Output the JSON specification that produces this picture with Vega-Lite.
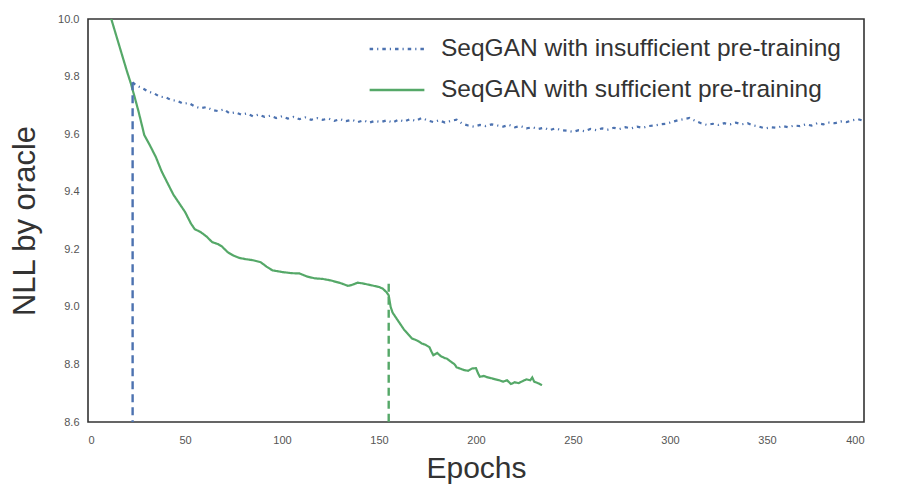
{
  "$schema": "https://vega.github.io/schema/vega-lite/v6.json",
  "autosize": {"type": "none"},
  "width": 776,
  "height": 403,
  "padding": {"left": 88, "top": 19, "right": 39, "bottom": 70},
  "background": "white",
  "config": {
    "font": "Liberation Sans",
    "view": {"stroke": "#333333", "strokeWidth": 1.6},
    "axis": {
      "domain": false,
      "grid": false,
      "ticks": false,
      "labelFont": "Liberation Sans",
      "labelFontSize": 11,
      "labelColor": "#555555",
      "titleFont": "Liberation Sans",
      "titleFontWeight": "normal",
      "titleColor": "#333333"
    },
    "legend": {
      "labelFont": "Liberation Sans",
      "labelFontSize": 24.5,
      "labelColor": "#333333",
      "labelLimit": 600
    }
  },
  "datasets": {
    "curves": [
      {"series": "SeqGAN with insufficient pre-training", "epoch": 23, "nll": 9.780},
      {"series": "SeqGAN with insufficient pre-training", "epoch": 25, "nll": 9.768},
      {"series": "SeqGAN with insufficient pre-training", "epoch": 28, "nll": 9.760},
      {"series": "SeqGAN with insufficient pre-training", "epoch": 31, "nll": 9.748},
      {"series": "SeqGAN with insufficient pre-training", "epoch": 34, "nll": 9.742},
      {"series": "SeqGAN with insufficient pre-training", "epoch": 37, "nll": 9.730},
      {"series": "SeqGAN with insufficient pre-training", "epoch": 40, "nll": 9.728},
      {"series": "SeqGAN with insufficient pre-training", "epoch": 43, "nll": 9.718},
      {"series": "SeqGAN with insufficient pre-training", "epoch": 46, "nll": 9.716},
      {"series": "SeqGAN with insufficient pre-training", "epoch": 49, "nll": 9.706},
      {"series": "SeqGAN with insufficient pre-training", "epoch": 52, "nll": 9.708},
      {"series": "SeqGAN with insufficient pre-training", "epoch": 55, "nll": 9.696},
      {"series": "SeqGAN with insufficient pre-training", "epoch": 58, "nll": 9.690},
      {"series": "SeqGAN with insufficient pre-training", "epoch": 61, "nll": 9.694},
      {"series": "SeqGAN with insufficient pre-training", "epoch": 64, "nll": 9.684},
      {"series": "SeqGAN with insufficient pre-training", "epoch": 67, "nll": 9.680},
      {"series": "SeqGAN with insufficient pre-training", "epoch": 70, "nll": 9.686},
      {"series": "SeqGAN with insufficient pre-training", "epoch": 73, "nll": 9.672},
      {"series": "SeqGAN with insufficient pre-training", "epoch": 76, "nll": 9.676},
      {"series": "SeqGAN with insufficient pre-training", "epoch": 79, "nll": 9.668},
      {"series": "SeqGAN with insufficient pre-training", "epoch": 82, "nll": 9.672},
      {"series": "SeqGAN with insufficient pre-training", "epoch": 85, "nll": 9.662},
      {"series": "SeqGAN with insufficient pre-training", "epoch": 88, "nll": 9.668},
      {"series": "SeqGAN with insufficient pre-training", "epoch": 91, "nll": 9.660},
      {"series": "SeqGAN with insufficient pre-training", "epoch": 94, "nll": 9.664},
      {"series": "SeqGAN with insufficient pre-training", "epoch": 97, "nll": 9.656},
      {"series": "SeqGAN with insufficient pre-training", "epoch": 100, "nll": 9.662},
      {"series": "SeqGAN with insufficient pre-training", "epoch": 103, "nll": 9.654},
      {"series": "SeqGAN with insufficient pre-training", "epoch": 106, "nll": 9.660},
      {"series": "SeqGAN with insufficient pre-training", "epoch": 109, "nll": 9.652},
      {"series": "SeqGAN with insufficient pre-training", "epoch": 112, "nll": 9.658},
      {"series": "SeqGAN with insufficient pre-training", "epoch": 115, "nll": 9.650},
      {"series": "SeqGAN with insufficient pre-training", "epoch": 118, "nll": 9.656},
      {"series": "SeqGAN with insufficient pre-training", "epoch": 121, "nll": 9.650},
      {"series": "SeqGAN with insufficient pre-training", "epoch": 124, "nll": 9.654},
      {"series": "SeqGAN with insufficient pre-training", "epoch": 127, "nll": 9.646},
      {"series": "SeqGAN with insufficient pre-training", "epoch": 130, "nll": 9.652},
      {"series": "SeqGAN with insufficient pre-training", "epoch": 133, "nll": 9.645},
      {"series": "SeqGAN with insufficient pre-training", "epoch": 136, "nll": 9.650},
      {"series": "SeqGAN with insufficient pre-training", "epoch": 139, "nll": 9.642},
      {"series": "SeqGAN with insufficient pre-training", "epoch": 142, "nll": 9.648},
      {"series": "SeqGAN with insufficient pre-training", "epoch": 145, "nll": 9.640},
      {"series": "SeqGAN with insufficient pre-training", "epoch": 148, "nll": 9.646},
      {"series": "SeqGAN with insufficient pre-training", "epoch": 151, "nll": 9.642},
      {"series": "SeqGAN with insufficient pre-training", "epoch": 154, "nll": 9.648},
      {"series": "SeqGAN with insufficient pre-training", "epoch": 157, "nll": 9.640},
      {"series": "SeqGAN with insufficient pre-training", "epoch": 160, "nll": 9.650},
      {"series": "SeqGAN with insufficient pre-training", "epoch": 163, "nll": 9.644},
      {"series": "SeqGAN with insufficient pre-training", "epoch": 166, "nll": 9.652},
      {"series": "SeqGAN with insufficient pre-training", "epoch": 169, "nll": 9.646},
      {"series": "SeqGAN with insufficient pre-training", "epoch": 172, "nll": 9.656},
      {"series": "SeqGAN with insufficient pre-training", "epoch": 175, "nll": 9.648},
      {"series": "SeqGAN with insufficient pre-training", "epoch": 178, "nll": 9.642},
      {"series": "SeqGAN with insufficient pre-training", "epoch": 181, "nll": 9.648},
      {"series": "SeqGAN with insufficient pre-training", "epoch": 184, "nll": 9.640},
      {"series": "SeqGAN with insufficient pre-training", "epoch": 187, "nll": 9.646},
      {"series": "SeqGAN with insufficient pre-training", "epoch": 190, "nll": 9.650},
      {"series": "SeqGAN with insufficient pre-training", "epoch": 193, "nll": 9.636},
      {"series": "SeqGAN with insufficient pre-training", "epoch": 196, "nll": 9.630},
      {"series": "SeqGAN with insufficient pre-training", "epoch": 199, "nll": 9.626},
      {"series": "SeqGAN with insufficient pre-training", "epoch": 202, "nll": 9.632},
      {"series": "SeqGAN with insufficient pre-training", "epoch": 205, "nll": 9.628},
      {"series": "SeqGAN with insufficient pre-training", "epoch": 208, "nll": 9.634},
      {"series": "SeqGAN with insufficient pre-training", "epoch": 211, "nll": 9.630},
      {"series": "SeqGAN with insufficient pre-training", "epoch": 214, "nll": 9.626},
      {"series": "SeqGAN with insufficient pre-training", "epoch": 217, "nll": 9.632},
      {"series": "SeqGAN with insufficient pre-training", "epoch": 220, "nll": 9.624},
      {"series": "SeqGAN with insufficient pre-training", "epoch": 223, "nll": 9.628},
      {"series": "SeqGAN with insufficient pre-training", "epoch": 226, "nll": 9.620},
      {"series": "SeqGAN with insufficient pre-training", "epoch": 229, "nll": 9.624},
      {"series": "SeqGAN with insufficient pre-training", "epoch": 232, "nll": 9.618},
      {"series": "SeqGAN with insufficient pre-training", "epoch": 235, "nll": 9.622},
      {"series": "SeqGAN with insufficient pre-training", "epoch": 238, "nll": 9.614},
      {"series": "SeqGAN with insufficient pre-training", "epoch": 241, "nll": 9.620},
      {"series": "SeqGAN with insufficient pre-training", "epoch": 244, "nll": 9.614},
      {"series": "SeqGAN with insufficient pre-training", "epoch": 247, "nll": 9.612},
      {"series": "SeqGAN with insufficient pre-training", "epoch": 250, "nll": 9.608},
      {"series": "SeqGAN with insufficient pre-training", "epoch": 253, "nll": 9.614},
      {"series": "SeqGAN with insufficient pre-training", "epoch": 256, "nll": 9.610},
      {"series": "SeqGAN with insufficient pre-training", "epoch": 259, "nll": 9.618},
      {"series": "SeqGAN with insufficient pre-training", "epoch": 262, "nll": 9.614},
      {"series": "SeqGAN with insufficient pre-training", "epoch": 265, "nll": 9.620},
      {"series": "SeqGAN with insufficient pre-training", "epoch": 268, "nll": 9.616},
      {"series": "SeqGAN with insufficient pre-training", "epoch": 271, "nll": 9.622},
      {"series": "SeqGAN with insufficient pre-training", "epoch": 274, "nll": 9.618},
      {"series": "SeqGAN with insufficient pre-training", "epoch": 277, "nll": 9.624},
      {"series": "SeqGAN with insufficient pre-training", "epoch": 280, "nll": 9.620},
      {"series": "SeqGAN with insufficient pre-training", "epoch": 283, "nll": 9.626},
      {"series": "SeqGAN with insufficient pre-training", "epoch": 286, "nll": 9.622},
      {"series": "SeqGAN with insufficient pre-training", "epoch": 289, "nll": 9.628},
      {"series": "SeqGAN with insufficient pre-training", "epoch": 292, "nll": 9.630},
      {"series": "SeqGAN with insufficient pre-training", "epoch": 295, "nll": 9.634},
      {"series": "SeqGAN with insufficient pre-training", "epoch": 298, "nll": 9.636},
      {"series": "SeqGAN with insufficient pre-training", "epoch": 301, "nll": 9.642},
      {"series": "SeqGAN with insufficient pre-training", "epoch": 304, "nll": 9.648},
      {"series": "SeqGAN with insufficient pre-training", "epoch": 307, "nll": 9.652},
      {"series": "SeqGAN with insufficient pre-training", "epoch": 310, "nll": 9.656},
      {"series": "SeqGAN with insufficient pre-training", "epoch": 313, "nll": 9.646},
      {"series": "SeqGAN with insufficient pre-training", "epoch": 316, "nll": 9.638},
      {"series": "SeqGAN with insufficient pre-training", "epoch": 319, "nll": 9.632},
      {"series": "SeqGAN with insufficient pre-training", "epoch": 322, "nll": 9.636},
      {"series": "SeqGAN with insufficient pre-training", "epoch": 325, "nll": 9.632},
      {"series": "SeqGAN with insufficient pre-training", "epoch": 328, "nll": 9.638},
      {"series": "SeqGAN with insufficient pre-training", "epoch": 331, "nll": 9.634},
      {"series": "SeqGAN with insufficient pre-training", "epoch": 334, "nll": 9.640},
      {"series": "SeqGAN with insufficient pre-training", "epoch": 337, "nll": 9.634},
      {"series": "SeqGAN with insufficient pre-training", "epoch": 340, "nll": 9.638},
      {"series": "SeqGAN with insufficient pre-training", "epoch": 343, "nll": 9.630},
      {"series": "SeqGAN with insufficient pre-training", "epoch": 346, "nll": 9.626},
      {"series": "SeqGAN with insufficient pre-training", "epoch": 349, "nll": 9.620},
      {"series": "SeqGAN with insufficient pre-training", "epoch": 352, "nll": 9.624},
      {"series": "SeqGAN with insufficient pre-training", "epoch": 355, "nll": 9.622},
      {"series": "SeqGAN with insufficient pre-training", "epoch": 358, "nll": 9.628},
      {"series": "SeqGAN with insufficient pre-training", "epoch": 361, "nll": 9.624},
      {"series": "SeqGAN with insufficient pre-training", "epoch": 364, "nll": 9.630},
      {"series": "SeqGAN with insufficient pre-training", "epoch": 367, "nll": 9.628},
      {"series": "SeqGAN with insufficient pre-training", "epoch": 370, "nll": 9.634},
      {"series": "SeqGAN with insufficient pre-training", "epoch": 373, "nll": 9.630},
      {"series": "SeqGAN with insufficient pre-training", "epoch": 376, "nll": 9.638},
      {"series": "SeqGAN with insufficient pre-training", "epoch": 379, "nll": 9.634},
      {"series": "SeqGAN with insufficient pre-training", "epoch": 382, "nll": 9.640},
      {"series": "SeqGAN with insufficient pre-training", "epoch": 385, "nll": 9.638},
      {"series": "SeqGAN with insufficient pre-training", "epoch": 388, "nll": 9.644},
      {"series": "SeqGAN with insufficient pre-training", "epoch": 391, "nll": 9.642},
      {"series": "SeqGAN with insufficient pre-training", "epoch": 394, "nll": 9.648},
      {"series": "SeqGAN with insufficient pre-training", "epoch": 397, "nll": 9.652},
      {"series": "SeqGAN with insufficient pre-training", "epoch": 400, "nll": 9.646},
      {"series": "SeqGAN with sufficient pre-training", "epoch": 10, "nll": 10.045},
      {"series": "SeqGAN with sufficient pre-training", "epoch": 12, "nll": 10.0},
      {"series": "SeqGAN with sufficient pre-training", "epoch": 14, "nll": 9.955},
      {"series": "SeqGAN with sufficient pre-training", "epoch": 16, "nll": 9.91},
      {"series": "SeqGAN with sufficient pre-training", "epoch": 18, "nll": 9.865},
      {"series": "SeqGAN with sufficient pre-training", "epoch": 20, "nll": 9.82},
      {"series": "SeqGAN with sufficient pre-training", "epoch": 22, "nll": 9.778},
      {"series": "SeqGAN with sufficient pre-training", "epoch": 24, "nll": 9.73},
      {"series": "SeqGAN with sufficient pre-training", "epoch": 26, "nll": 9.68},
      {"series": "SeqGAN with sufficient pre-training", "epoch": 28, "nll": 9.625},
      {"series": "SeqGAN with sufficient pre-training", "epoch": 29, "nll": 9.597},
      {"series": "SeqGAN with sufficient pre-training", "epoch": 32, "nll": 9.56},
      {"series": "SeqGAN with sufficient pre-training", "epoch": 35, "nll": 9.52},
      {"series": "SeqGAN with sufficient pre-training", "epoch": 38, "nll": 9.47},
      {"series": "SeqGAN with sufficient pre-training", "epoch": 41, "nll": 9.43},
      {"series": "SeqGAN with sufficient pre-training", "epoch": 44, "nll": 9.39},
      {"series": "SeqGAN with sufficient pre-training", "epoch": 47, "nll": 9.36},
      {"series": "SeqGAN with sufficient pre-training", "epoch": 50, "nll": 9.33},
      {"series": "SeqGAN with sufficient pre-training", "epoch": 53, "nll": 9.29},
      {"series": "SeqGAN with sufficient pre-training", "epoch": 55, "nll": 9.27},
      {"series": "SeqGAN with sufficient pre-training", "epoch": 58, "nll": 9.26},
      {"series": "SeqGAN with sufficient pre-training", "epoch": 61, "nll": 9.245},
      {"series": "SeqGAN with sufficient pre-training", "epoch": 64, "nll": 9.225},
      {"series": "SeqGAN with sufficient pre-training", "epoch": 67, "nll": 9.218},
      {"series": "SeqGAN with sufficient pre-training", "epoch": 69, "nll": 9.21},
      {"series": "SeqGAN with sufficient pre-training", "epoch": 72, "nll": 9.19},
      {"series": "SeqGAN with sufficient pre-training", "epoch": 75, "nll": 9.178},
      {"series": "SeqGAN with sufficient pre-training", "epoch": 78, "nll": 9.17},
      {"series": "SeqGAN with sufficient pre-training", "epoch": 81, "nll": 9.166},
      {"series": "SeqGAN with sufficient pre-training", "epoch": 85, "nll": 9.162},
      {"series": "SeqGAN with sufficient pre-training", "epoch": 89, "nll": 9.155},
      {"series": "SeqGAN with sufficient pre-training", "epoch": 92, "nll": 9.14},
      {"series": "SeqGAN with sufficient pre-training", "epoch": 95, "nll": 9.127},
      {"series": "SeqGAN with sufficient pre-training", "epoch": 100, "nll": 9.121},
      {"series": "SeqGAN with sufficient pre-training", "epoch": 105, "nll": 9.117},
      {"series": "SeqGAN with sufficient pre-training", "epoch": 109, "nll": 9.116},
      {"series": "SeqGAN with sufficient pre-training", "epoch": 113, "nll": 9.105},
      {"series": "SeqGAN with sufficient pre-training", "epoch": 117, "nll": 9.099},
      {"series": "SeqGAN with sufficient pre-training", "epoch": 121, "nll": 9.097},
      {"series": "SeqGAN with sufficient pre-training", "epoch": 125, "nll": 9.092},
      {"series": "SeqGAN with sufficient pre-training", "epoch": 130, "nll": 9.083},
      {"series": "SeqGAN with sufficient pre-training", "epoch": 134, "nll": 9.073},
      {"series": "SeqGAN with sufficient pre-training", "epoch": 136, "nll": 9.076},
      {"series": "SeqGAN with sufficient pre-training", "epoch": 139, "nll": 9.084},
      {"series": "SeqGAN with sufficient pre-training", "epoch": 142, "nll": 9.081},
      {"series": "SeqGAN with sufficient pre-training", "epoch": 146, "nll": 9.075},
      {"series": "SeqGAN with sufficient pre-training", "epoch": 150, "nll": 9.069},
      {"series": "SeqGAN with sufficient pre-training", "epoch": 152, "nll": 9.063},
      {"series": "SeqGAN with sufficient pre-training", "epoch": 154, "nll": 9.05},
      {"series": "SeqGAN with sufficient pre-training", "epoch": 155, "nll": 9.04},
      {"series": "SeqGAN with sufficient pre-training", "epoch": 156, "nll": 9.0},
      {"series": "SeqGAN with sufficient pre-training", "epoch": 157, "nll": 8.98},
      {"series": "SeqGAN with sufficient pre-training", "epoch": 159, "nll": 8.96},
      {"series": "SeqGAN with sufficient pre-training", "epoch": 161, "nll": 8.94},
      {"series": "SeqGAN with sufficient pre-training", "epoch": 163, "nll": 8.92},
      {"series": "SeqGAN with sufficient pre-training", "epoch": 165, "nll": 8.905},
      {"series": "SeqGAN with sufficient pre-training", "epoch": 167, "nll": 8.89},
      {"series": "SeqGAN with sufficient pre-training", "epoch": 169, "nll": 8.885},
      {"series": "SeqGAN with sufficient pre-training", "epoch": 171, "nll": 8.878},
      {"series": "SeqGAN with sufficient pre-training", "epoch": 172, "nll": 8.873},
      {"series": "SeqGAN with sufficient pre-training", "epoch": 174, "nll": 8.868},
      {"series": "SeqGAN with sufficient pre-training", "epoch": 176, "nll": 8.86},
      {"series": "SeqGAN with sufficient pre-training", "epoch": 177, "nll": 8.845},
      {"series": "SeqGAN with sufficient pre-training", "epoch": 178, "nll": 8.832},
      {"series": "SeqGAN with sufficient pre-training", "epoch": 180, "nll": 8.84},
      {"series": "SeqGAN with sufficient pre-training", "epoch": 182, "nll": 8.828},
      {"series": "SeqGAN with sufficient pre-training", "epoch": 184, "nll": 8.822},
      {"series": "SeqGAN with sufficient pre-training", "epoch": 185, "nll": 8.82},
      {"series": "SeqGAN with sufficient pre-training", "epoch": 187, "nll": 8.81},
      {"series": "SeqGAN with sufficient pre-training", "epoch": 189, "nll": 8.8},
      {"series": "SeqGAN with sufficient pre-training", "epoch": 190, "nll": 8.79},
      {"series": "SeqGAN with sufficient pre-training", "epoch": 192, "nll": 8.785},
      {"series": "SeqGAN with sufficient pre-training", "epoch": 194, "nll": 8.78},
      {"series": "SeqGAN with sufficient pre-training", "epoch": 196, "nll": 8.778},
      {"series": "SeqGAN with sufficient pre-training", "epoch": 198, "nll": 8.786},
      {"series": "SeqGAN with sufficient pre-training", "epoch": 200, "nll": 8.787},
      {"series": "SeqGAN with sufficient pre-training", "epoch": 201, "nll": 8.77},
      {"series": "SeqGAN with sufficient pre-training", "epoch": 202, "nll": 8.757},
      {"series": "SeqGAN with sufficient pre-training", "epoch": 204, "nll": 8.76},
      {"series": "SeqGAN with sufficient pre-training", "epoch": 206, "nll": 8.755},
      {"series": "SeqGAN with sufficient pre-training", "epoch": 208, "nll": 8.752},
      {"series": "SeqGAN with sufficient pre-training", "epoch": 210, "nll": 8.748},
      {"series": "SeqGAN with sufficient pre-training", "epoch": 212, "nll": 8.745},
      {"series": "SeqGAN with sufficient pre-training", "epoch": 214, "nll": 8.74},
      {"series": "SeqGAN with sufficient pre-training", "epoch": 216, "nll": 8.745},
      {"series": "SeqGAN with sufficient pre-training", "epoch": 218, "nll": 8.732},
      {"series": "SeqGAN with sufficient pre-training", "epoch": 220, "nll": 8.738},
      {"series": "SeqGAN with sufficient pre-training", "epoch": 222, "nll": 8.735},
      {"series": "SeqGAN with sufficient pre-training", "epoch": 224, "nll": 8.742},
      {"series": "SeqGAN with sufficient pre-training", "epoch": 226, "nll": 8.748},
      {"series": "SeqGAN with sufficient pre-training", "epoch": 228, "nll": 8.745},
      {"series": "SeqGAN with sufficient pre-training", "epoch": 229, "nll": 8.755},
      {"series": "SeqGAN with sufficient pre-training", "epoch": 230, "nll": 8.74},
      {"series": "SeqGAN with sufficient pre-training", "epoch": 232, "nll": 8.735},
      {"series": "SeqGAN with sufficient pre-training", "epoch": 234, "nll": 8.728}
    ],
    "switches": [
      {"series": "SeqGAN with insufficient pre-training", "epoch": 23, "nll": 9.78},
      {"series": "SeqGAN with sufficient pre-training", "epoch": 155, "nll": 9.08}
    ]
  },
  "encoding": {
    "x": {
      "field": "epoch",
      "type": "quantitative",
      "scale": {"domain": [0, 400], "nice": false},
      "axis": {
        "title": "Epochs",
        "values": [0, 50, 100, 150, 200, 250, 300, 350, 400],
        "labelPadding": 12,
        "titleFontSize": 30,
        "titlePadding": 8
      }
    },
    "y": {
      "field": "nll",
      "type": "quantitative",
      "scale": {"domain": [8.6, 10.0], "nice": false, "zero": false},
      "axis": {
        "title": "NLL by oracle",
        "values": [8.6, 8.8, 9.0, 9.2, 9.4, 9.6, 9.8, 10.0],
        "format": ".1f",
        "labelPadding": 9,
        "titleFontSize": 31,
        "titlePadding": 16
      }
    },
    "color": {
      "field": "series",
      "type": "nominal",
      "scale": {
        "domain": ["SeqGAN with insufficient pre-training", "SeqGAN with sufficient pre-training"],
        "range": ["#4C72B0", "#55A868"]
      },
      "legend": {
        "title": null,
        "orient": "none",
        "legendX": 280,
        "legendY": 1,
        "symbolType": "stroke",
        "symbolSize": 3000,
        "symbolStrokeWidth": 2.5,
        "labelOffset": 15,
        "rowPadding": -16
      }
    }
  },
  "layer": [
    {
      "data": {"name": "curves"},
      "mark": {"type": "line", "strokeWidth": 2.2, "clip": true},
      "encoding": {
        "strokeDash": {
          "field": "series",
          "type": "nominal",
          "scale": {
            "domain": ["SeqGAN with insufficient pre-training", "SeqGAN with sufficient pre-training"],
            "range": [[3.5, 4, 1.2, 4], [1, 0]]
          },
          "legend": {
            "title": null,
            "orient": "none",
            "legendX": 280,
            "legendY": 1,
            "symbolType": "stroke",
            "symbolSize": 3000,
            "symbolStrokeWidth": 2.5,
            "labelOffset": 15,
            "rowPadding": -16
          }
        }
      }
    },
    {
      "data": {"name": "switches"},
      "mark": {"type": "rule", "strokeWidth": 2.4, "strokeDash": [8, 5]},
      "encoding": {
        "y2": {"datum": 8.6}
      }
    }
  ]
}
